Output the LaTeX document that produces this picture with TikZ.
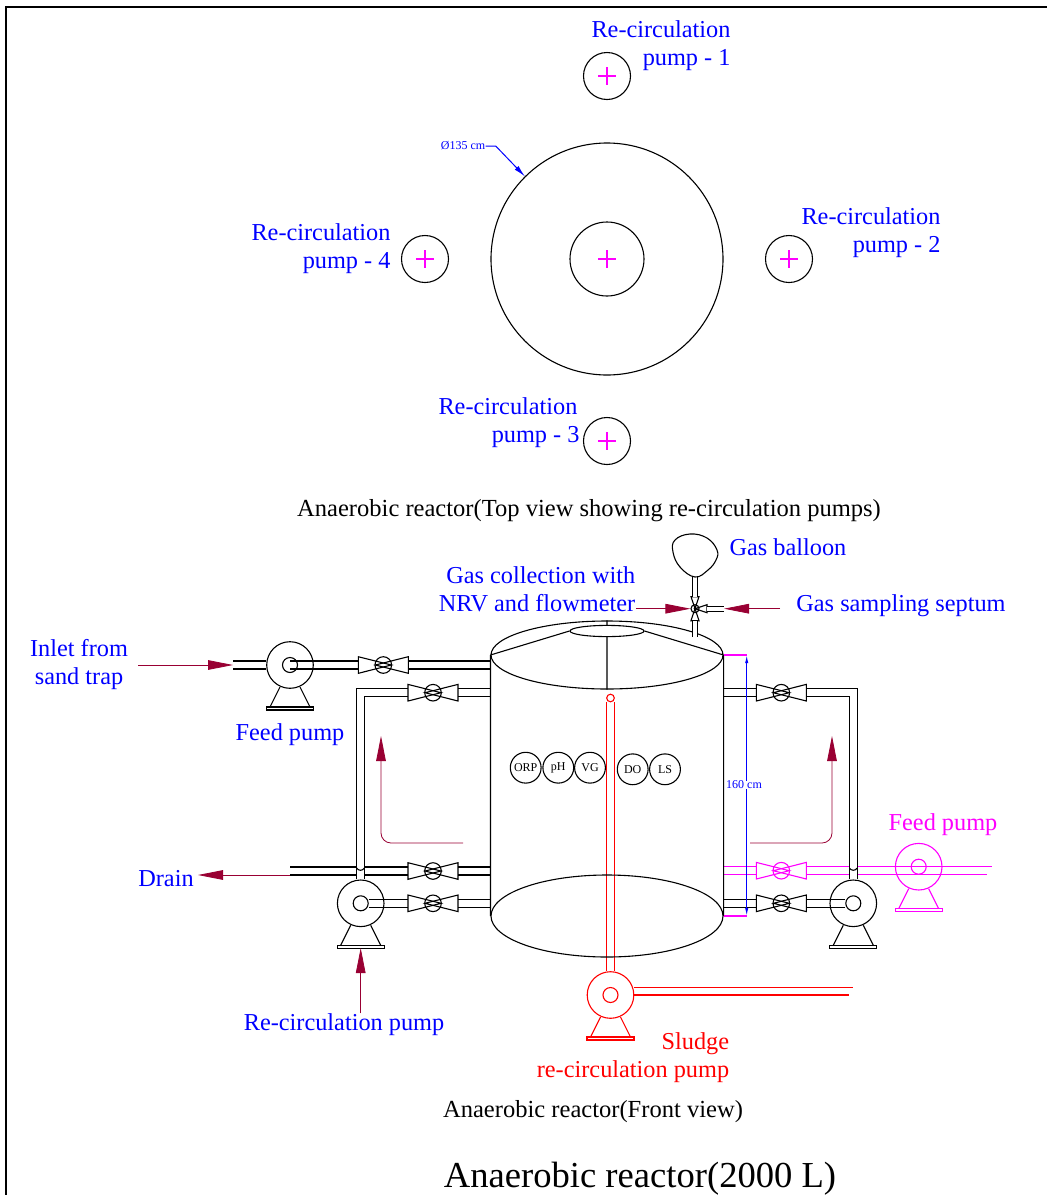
\documentclass[tikz,border=0pt]{standalone}
\usepackage{fontspec}
\setmainfont{Liberation Serif}
\usetikzlibrary{shapes.geometric, arrows.meta, backgrounds}

\definecolor{ArrowRed}{HTML}{990033}
\definecolor{Pink}{RGB}{255,0,255}
\definecolor{PureRed}{RGB}{255,0,0}
\definecolor{PureBlue}{RGB}{0,0,255}

\tikzset{
	pump/.pic={
		\node [circle, draw, inner sep=0, minimum size=23.3pt] (-shell) at (0,0) {};
		\node [circle, draw, inner sep=0, minimum size=7.5pt] (-eye) at (0,0) {};
		\draw (-10,22) -- (-20,42) (10,22) -- (20,42);
		\draw (-23.5,42) rectangle (23.5,45);
	},
	valve/.pic={
		\node [circle, draw, inner sep=0, minimum size=8.3pt] (-hub) at (0,0) {};
		\draw (-25,-8.3) -- (-25,8.3) -- (8,0) -- cycle;
		\draw (25,-8.3) -- (25,8.3) -- (-8,0) -- cycle;
		\coordinate (-in) at (-25,0);
		\coordinate (-out) at (25,0);
	}
}

\begin{document}
\begin{tikzpicture}[
		x=0.5pt, y=-0.5pt,
		line width=0.55pt,
		pipe/.style={double, double distance=3.45pt, line width=0.55pt},
		BlueCfg/.style={text=PureBlue, font=\fontsize{12.15}{14}\selectfont, align=right, inner sep=0},
		BlackCfg/.style={text=black, font=\fontsize{12.27}{14}\selectfont, inner sep=0},
		TinyCfg/.style={font=\fontsize{6}{7}\selectfont, inner sep=0},
		Ring/.style={circle, draw, inner sep=0, minimum size=23.5pt},
		Probe/.style={circle, draw, TinyCfg, minimum size=15.4pt},
		Leader/.style={draw=ArrowRed, line width=0.4pt, -{Triangle[length=12.5pt,width=4.8pt]}},
		Dim/.style={draw=PureBlue, line width=0.5pt, {Latex[length=4pt,width=1.6pt]}-{Latex[length=4pt,width=1.6pt]}}
		]
		\useasboundingbox (0,0) rectangle (1047,1195);
		
		% frame
		\draw [line width=1pt] (6,1195) -- (6,7) -- (1047,7);
		
		% top view
		\path 
		(607,259) node [circle, draw, inner sep=0, minimum size=116pt] (TANKTOP) {}
		(607,259) node [Ring, minimum size=37pt] (CORE) {}
		(607,76) node [Ring] (RECIRC1) {}
		(789,259) node [Ring] (RECIRC2) {}
		(607,441) node [Ring] (RECIRC3) {}
		(425,259) node [Ring] (RECIRC4) {};
		
		\foreach \name in {CORE, RECIRC1, RECIRC2, RECIRC3, RECIRC4}
			\draw [draw=Pink, line width=0.7pt] (\name.center) +(-9,0) -- +(9,0) +(0,-9) -- +(0,9);
		
		\path 
		(661,46) node [BlueCfg] (LBL1) {Re-circulation\\pump - 1\hspace{2pt}}
		(871,233) node [BlueCfg] (LBL2) {Re-circulation\\pump - 2}
		(508,423) node [BlueCfg] (LBL3) {Re-circulation\\pump - 3\hspace*{-1pt}}
		(321,249) node [BlueCfg] (LBL4) {Re-circulation\\pump - 4}
		(463,146) node [TinyCfg, text=PureBlue] (DIALBL) {Ø135 cm}
		(589,511) node [BlackCfg] (TOPCAP) {Anaerobic reactor(Top view showing re-circulation pumps)};
		
		\draw [draw=PureBlue, line width=0.5pt, -{Latex[length=6pt,width=2.6pt]}] 
		(DIALBL.east) --++ (10,0) -- (525,176.5);
		
		% tank
		\path
		(607,655) node [ellipse, draw, inner sep=0, minimum width=116pt, minimum height=34pt] (DISH) {}
		(607,631) node [ellipse, draw, inner sep=0, minimum width=37pt, minimum height=5.6pt] (HATCH) {}
		(607,916) node [ellipse, draw, inner sep=0, minimum width=116pt, minimum height=41pt] (BASE) {};
		
		\draw
		(DISH.west) -- (BASE.west)
		(DISH.east) -- (BASE.east)
		(DISH.west) -- (HATCH.west)
		(DISH.east) -- (HATCH.east)
		(DISH.north) -- (HATCH.north)
		(HATCH.south) -- (DISH.south);
		
		\path
		(525.7,767.7) node [Probe] (ORP) {ORP}
		(558.3,767.7) node [Probe] (PH) {pH}
		(590,767.7) node [Probe] (VG) {VG}
		(632.7,769.3) node [Probe] (DO) {DO}
		(665,769.3) node [Probe] (LS) {LS};
		
		% pumps and valves
		\path
		(290,665) pic (FEEDL) {pump}
		(360.7,903.3) pic (RECIRCL) {pump}
		(853.3,903.3) pic (RECIRCR) {pump}
		(610.5,995) pic [color=PureRed] (SLUDGE) {pump}
		(918.7,866.7) pic [color=Pink] (FEEDR) {pump}
		(383.3,665) pic (V1) {valve}
		(433,692.7) pic (V2) {valve}
		(433,871) pic (V3) {valve}
		(433,903.3) pic (V4) {valve}
		(781.3,692.7) pic (V5) {valve}
		(781.3,870.7) pic [color=Pink] (V6) {valve}
		(781.3,903.3) pic (V7) {valve};
		
		\coordinate (INLET) at (233,665);
		\coordinate (DRAIN) at (290,871);
		
		% pipes
		\begin{scope}[on background layer]
			\draw [pipe] (INLET) -- (FEEDL-shell.west);
			\draw [pipe] (FEEDL-eye.center) -- (V1-in);
			\draw [pipe] (V1-out) -- (V1-out -| DISH.west);
			\draw [pipe] (V2-out) -- (V2-out -| DISH.west);
			\draw [pipe] (V3-out) -- (V3-out -| DISH.west);
			\draw [pipe] (V4-out) -- (V4-out -| DISH.west);
			\draw [pipe] (DRAIN) -- (V3-in);
			\draw [pipe] (RECIRCL-eye.east) -- (V4-in);
			\draw [pipe] (V2-in) -| (RECIRCL-shell.north);
			\draw [pipe] (V5-in) -- (V5-in -| DISH.east);
			\draw [pipe] (V7-in) -- (V7-in -| DISH.east);
			\draw [pipe] (RECIRCR-eye.west) -- (V7-out);
			\draw [pipe, Pink] (V6-in) -- (V6-in -| DISH.east);
			\draw [Pink] 
			(V6-out) ++ (0,-4) --++ (186,0)
			(V6-out) ++ (0,4) --++ (181,0);
			\draw [pipe] (V5-out) -| (RECIRCR-shell.north);
			\draw [pipe, PureRed] (610.5,702) -- (SLUDGE-shell.north);
			\draw [draw=PureRed, line width=0.8pt] 
			(SLUDGE-shell.east) ++ (0,-7.5) --++ (219,0)
			(SLUDGE-shell.east) --++ (215,0);
		\end{scope}
		
		\draw (356.5,868) .. controls (358.5,871) and (362.5,871) .. (364.5,868);
		\draw (849.3,868) .. controls (851.3,871) and (855.3,871) .. (857.3,868);
		\draw [PureRed] (610.5,698) circle [radius=1.9pt];
		
		% gas line
		\path (695,608.7) node [circle, draw, inner sep=0, minimum size=4pt] (GASV) {};
		\foreach \a in {0,90,270}
			\draw [shift={(GASV.center)}, rotate=\a] (12,-4) -- (12,4) -- (0,0) -- cycle;
		\draw [pipe, double distance=2pt] (695,577) -- (695,597);
		\draw [pipe, double distance=2pt] (695,621) -- (695,637);
		\draw [pipe, double distance=2pt] (707,608.7) -- (724,608.7);
		\draw plot [smooth cycle, tension=0.7] coordinates 
		{(695,577) (680,567) (673,552) (675,540) (690,534) (707,538) (717,550) (716,560) (708,570)};
		
		% sizes
		\draw [Pink] (DISH.east) -- (746.7,655);
		\draw [Pink] (BASE.east) -- (746.7,916);
		\draw [Dim] (746.7,655) -- (746.7,916);
		\path (744,785) node [TinyCfg, text=PureBlue, fill=white] (SIZELBL) {160 cm};
		
		% labels and leaders
		\path
		(79,665) node [BlueCfg, align=center] (INLBL) {Inlet from\\sand trap}
		(290,735) node [BlueCfg] (FEEDLBL) {Feed pump}
		(788,547) node [BlueCfg] (BALLOON) {Gas balloon}
		(537,589) node [BlueCfg] (GASLBL) {Gas collection with\\NRV and flowmeter}
		(901,606) node [BlueCfg] (SEPTUM) {Gas sampling septum}
		(166,879) node [BlueCfg] (DRAINLBL) {Drain}
		(344,1025) node [BlueCfg] (RECIRCLBL) {Re-circulation pump}
		(943,825) node [BlueCfg, text=Pink] (FEEDRLBL) {Feed pump}
		(633,1058) node [BlueCfg, text=PureRed] (SLUDGELBL) {Sludge\\re-circulation pump}
		(593,1112) node [BlackCfg] (FRONTCAP) {Anaerobic reactor(Front view)}
		(640,1179) node [BlackCfg, font=\fontsize{18.3}{20}\selectfont] (TITLE) {Anaerobic reactor(2000 L)};
		
		\draw [Leader] (INLBL.east |- INLET) ++ (10,0) -- (INLET);
		\draw [Leader] (DRAIN) ++ (0,4) -- (198,875);
		\draw [Leader] (RECIRCLBL.north -| RECIRCL-shell.south) -- (360.7,948);
		\draw [Leader] (GASV.west -| GASLBL.east) -- (GASV.west);
		\draw [Leader] (780,608.7) -- (724,608.7);
		\draw [Leader, rounded corners=5pt] (463,843) -- (381,843) -- (381,736);
		\draw [Leader, rounded corners=5pt] (750,843) -- (832,843) -- (832,736);
\end{tikzpicture}
\end{document}
